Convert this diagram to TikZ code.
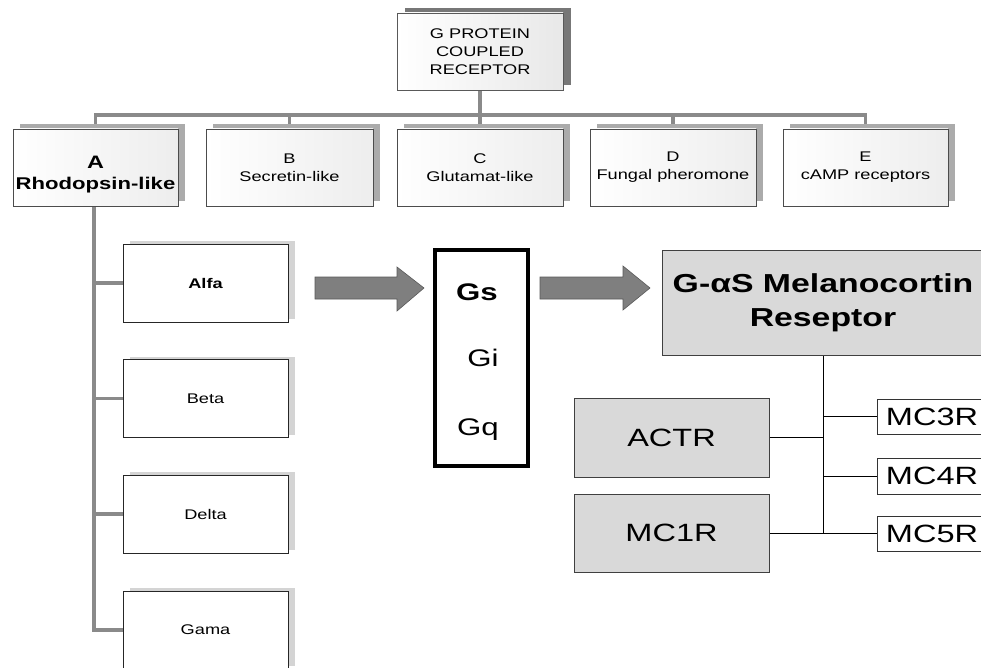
\documentclass[tikz,border=0pt]{standalone}
\usepackage{fontspec}
\setmainfont{Liberation Sans}
\newfontfamily\sw[FakeStretch=1.3]{Liberation Sans}
\usetikzlibrary{shadows,backgrounds}
\definecolor{treegray}{HTML}{8A8A8A}
\definecolor{shdark}{HTML}{777777}
\definecolor{shmid}{HTML}{ABABAB}
\definecolor{shlight}{HTML}{D4D4D4}
\definecolor{boxgray}{HTML}{D9D9D9}
\definecolor{arrowgray}{HTML}{7F7F7F}
\begin{document}
\begin{tikzpicture}[x=1pt,y=-1pt,
  rootbox/.style={draw=gray!70!black, line width=0.8pt, left color=white, right color=gray!18,
    minimum width=166pt, minimum height=77pt, inner sep=0pt, outer sep=0pt, align=center,
    font=\sw\fontsize{14}{18}\selectfont,
    drop shadow={shadow xshift=8pt, shadow yshift=5pt, fill=shdark, opacity=1}},
  rowbox/.style={draw=gray!60!black, line width=0.6pt, left color=white, right color=gray!14,
    minimum height=77pt, inner sep=0pt, outer sep=0pt, align=center,
    font=\sw\fontsize{14}{18}\selectfont,
    drop shadow={shadow xshift=7pt, shadow yshift=5pt, fill=shmid, opacity=1}},
  subbox/.style={draw=black!85, line width=0.9pt, fill=white,
    minimum width=165pt, minimum height=78pt, inner sep=0pt, outer sep=0pt,
    font=\sw\fontsize{14}{17}\selectfont,
    drop shadow={shadow xshift=7pt, shadow yshift=3pt, fill=shlight, opacity=1}},
  graybox/.style={draw=black!75, line width=0.8pt, fill=boxgray, inner sep=0pt, outer sep=0pt, align=center},
  mcbox/.style={draw=black!80, line width=0.8pt, fill=white, minimum width=110pt, inner sep=0pt, outer sep=0pt,
    font=\sw\fontsize{25}{28}\selectfont},
  tree/.style={draw=treegray, line width=3.5pt},
  thin/.style={draw=black, line width=1pt},
  blockarrow/.style={fill=arrowgray, draw=black!65, line width=0.6pt}
]
\useasboundingbox (0,0) rectangle (981,668);
\clip (0,0) rectangle (981,668);

% root
\node[rootbox] (gpcr) at (480,51.5) {G PROTEIN\\COUPLED\\RECEPTOR};

% families
\node[rowbox, minimum width=165pt] (A) at (95.5,167.5)
  {\rule{0pt}{26pt}\bfseries{\fontsize{18}{22}\selectfont A}\\[3pt]\bfseries\fontsize{17}{20}\selectfont Rhodopsin-like};
\node[rowbox, minimum width=167pt] (B) at (289.5,167.5) {B\\Secretin-like};
\node[rowbox, minimum width=166pt] (C) at (480,167.5) {C\\Glutamat-like};
\node[rowbox, minimum width=166pt] (D) at (673,167.5) {D\\Fungal pheromone};
\node[rowbox, minimum width=165pt] (E) at (865.5,167.5) {E\\cAMP receptors};

% subfamilies
\node[subbox] (alfa) at (205.5,283) {\bfseries Alfa};
\node[subbox] (beta) at (205.5,398.5) {Beta};
\node[subbox] (delta) at (205.5,514) {Delta};
\node[subbox] (gama) at (205.5,630) {Gama};

% G proteins box
\node[draw=black, line width=4pt, fill=white, minimum width=93pt, minimum height=216pt, inner sep=0pt] (gbox) at (481.5,358) {};
\node[anchor=base, font=\sw\bfseries\fontsize{24}{26}\selectfont, inner sep=0pt] (gs) at (477,300.5) {Gs};
\node[anchor=base, font=\sw\fontsize{24}{26}\selectfont, inner sep=0pt] (gi) at (483,366.5) {Gi};
\node[anchor=base, font=\sw\fontsize{24}{26}\selectfont, inner sep=0pt] (gq) at (478,435) {Gq};

% melanocortin receptor
\node[graybox, minimum width=322pt, minimum height=105pt, font=\sw\bfseries\fontsize{26}{34}\selectfont] (gas) at (823,303)
  {G-αS Melanocortin\\Reseptor};
\node[graybox, minimum width=195pt, minimum height=79pt, font=\sw\fontsize{25}{28}\selectfont] (actr) at (671.5,437.5) {ACTR};
\node[graybox, minimum width=195pt, minimum height=78pt, font=\sw\fontsize{25}{28}\selectfont] (mc1) at (671.5,533) {MC1R};
\node[mcbox, minimum height=35pt] (mc3) at (932,416.5) {MC3R};
\node[mcbox, minimum height=36pt] (mc4) at (932,476) {MC4R};
\node[mcbox, minimum height=35pt] (mc5) at (932,533.5) {MC5R};

% block arrows
\filldraw[blockarrow] (315,277) -- (397,277) -- (397,267) -- (424,288) -- (397,311) -- (397,299) -- (315,299) -- cycle;
\filldraw[blockarrow] (540,277) -- (623,277) -- (623,266) -- (650,288) -- (623,310) -- (623,299) -- (540,299) -- cycle;

% connectors behind the boxes
\begin{scope}[on background layer]
  \fill[white] (0,0) rectangle (981,668);
  \coordinate (bar) at (480,115);
  \draw[tree] (gpcr.south) -- (gpcr.south |- bar);
  \draw[tree] (A.north) |- (bar) -| (E.north);
  \draw[tree] (B.north) -- (B.north |- bar);
  \draw[tree] (C.north) -- (C.north |- bar);
  \draw[tree] (D.north) -- (D.north |- bar);
  \coordinate (trunk) at (94,206);
  \draw[tree] (trunk) |- (gama.west);
  \draw[tree] (alfa.west) -- (alfa.west -| trunk);
  \draw[tree] (beta.west) -- (beta.west -| trunk);
  \draw[tree] (delta.west) -- (delta.west -| trunk);
  \draw[thin] (gas.south) -- (gas.south |- mc5.west);
  \draw[thin] (actr.east) -- (actr.east -| gas.south);
  \draw[thin] (mc1.east) -- (mc1.east -| gas.south);
  \draw[thin] (mc3.west) -- (mc3.west -| gas.south);
  \draw[thin] (mc4.west) -- (mc4.west -| gas.south);
  \draw[thin] (mc5.west) -- (mc5.west -| gas.south);
\end{scope}
\end{tikzpicture}
\end{document}
